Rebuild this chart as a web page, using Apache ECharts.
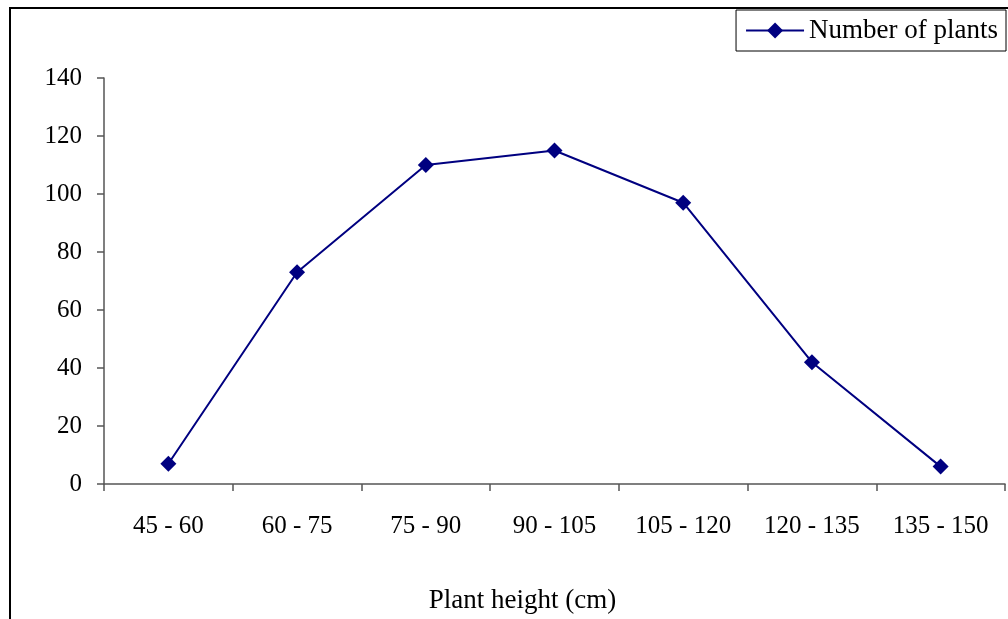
<!DOCTYPE html>
<html>
<head>
<meta charset="utf-8">
<script src="https://cdn.jsdelivr.net/npm/echarts@6/dist/echarts.min.js"></script>
<style>
  html, body { margin: 0; padding: 0; background: #fff; }
  #chart { width: 1008px; height: 619px; }
</style>
</head>
<body>
<div id="chart"></div>
<script>
// Height classes (cm) and plant counts
const categories = ['45 - 60', '60 - 75', '75 - 90', '90 - 105', '105 - 120', '120 - 135', '135 - 150'];
const plantCounts = [7, 73, 110, 115, 97, 42, 6];
const seriesName = 'Number of plants';
const xAxisTitle = 'Plant height (cm)';

const serif = '"Liberation Serif", "Times New Roman", serif';
const navy = '#000080';
const axisGray = '#555555';

const chart = echarts.init(document.getElementById('chart'));
chart.setOption({
  backgroundColor: '#ffffff',
  animation: false,
  // outer frame of the chart area
  graphic: [{
    type: 'rect',
    shape: { x: 10, y: 8, width: 1100, height: 700 },
    style: { fill: 'none', stroke: '#000', lineWidth: 2 },
    silent: true
  }],
  grid: { left: 104, top: 78, right: 3, bottom: 134, containLabel: false },
  legend: {
    data: [seriesName],
    right: 2,
    top: 10,
    orient: 'horizontal',
    borderColor: '#000',
    borderWidth: 1,
    padding: [7, 8, 7, 9],
    itemWidth: 58,
    itemHeight: 20,
    itemGap: 0,
    itemStyle: { color: navy },
    lineStyle: { color: navy, width: 2 },
    textStyle: { fontFamily: serif, fontSize: 27, color: '#000' }
  },
  xAxis: {
    type: 'category',
    data: categories,
    boundaryGap: true,
    name: xAxisTitle,
    nameLocation: 'middle',
    nameGap: 103,
    nameTextStyle: { fontFamily: serif, fontSize: 27, color: '#000', padding: [0, 64, 0, 0] },
    axisLine: { lineStyle: { color: axisGray, width: 1.5 } },
    axisTick: { show: true, length: 7, inside: false, lineStyle: { color: axisGray, width: 1.5 } },
    axisLabel: { fontFamily: serif, fontSize: 25, color: '#000', margin: 30 },
    splitLine: { show: false }
  },
  yAxis: {
    type: 'value',
    min: 0,
    max: 140,
    interval: 20,
    axisLine: { show: true, lineStyle: { color: axisGray, width: 1.5 } },
    axisTick: { show: true, length: 7, lineStyle: { color: axisGray, width: 1.5 } },
    axisLabel: { fontFamily: serif, fontSize: 25, color: '#000', margin: 22 },
    splitLine: { show: false }
  },
  series: [{
    name: seriesName,
    type: 'line',
    data: plantCounts,
    symbol: 'diamond',
    symbolSize: 16,
    itemStyle: { color: navy },
    lineStyle: { color: navy, width: 2 }
  }]
});
</script>
</body>
</html>
